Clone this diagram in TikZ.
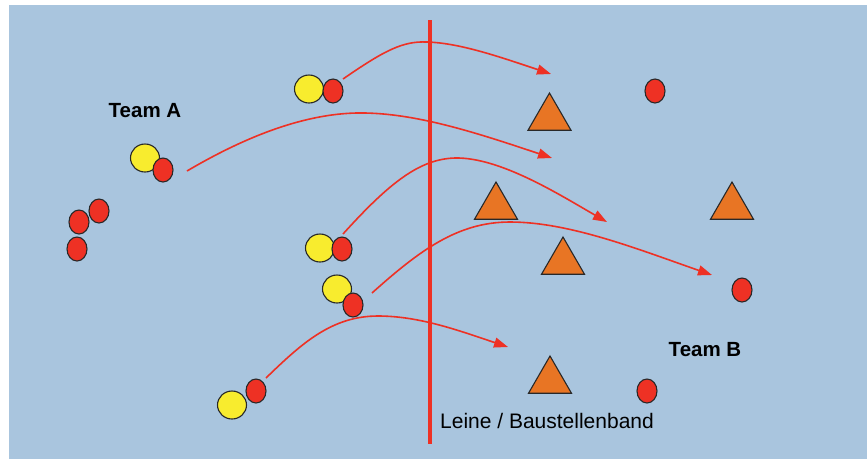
\documentclass[tikz,border=0pt]{standalone}
\usepackage{fontspec}
\setmainfont{Liberation Sans}
\usetikzlibrary{shapes.geometric,arrows.meta}
\definecolor{field}{RGB}{169,197,222}
\definecolor{runred}{RGB}{238,49,36}
\definecolor{ballyellow}{RGB}{248,236,46}
\definecolor{coneorange}{RGB}{232,117,36}
\definecolor{rim}{RGB}{40,40,40}
\begin{document}
\begin{tikzpicture}[x=1pt,y=-1pt,
  yellowplayer/.style={ellipse,draw=rim,line width=1.1pt,fill=ballyellow,
    minimum width=29pt,minimum height=28pt,inner sep=0pt},
  redplayer/.style={ellipse,draw=rim,line width=1.1pt,fill=runred,
    minimum width=20pt,minimum height=24pt,inner sep=0pt},
  cone/.style={regular polygon,regular polygon sides=3,draw=rim,line width=1.1pt,
    fill=coneorange,minimum size=49.6pt,inner sep=0pt},
  run/.style={draw=runred,line width=1.6pt,
    -{Triangle[length=14pt,width=10pt]}},
  teamlabel/.style={font=\fontsize{20.5}{24}\selectfont\bfseries,inner sep=0pt},
  ropelabel/.style={font=\fontsize{21}{25}\selectfont,inner sep=0pt}]

% playing field
\path[use as bounding box] (0,0) rectangle (867,459);
\fill[field] (9,5) rectangle (867,459);

% rope across the field
\coordinate (ropetop) at (430,20);
\coordinate (ropebottom) at (430,444);
\draw[runred,line width=4pt] (ropetop) -- (ropebottom);

% cones
\node[cone] (c1) at (549.5,117.8) {};
\node[cone] (c2) at (496,206.8) {};
\node[cone] (c3) at (563,261.8) {};
\node[cone] (c4) at (550,380.8) {};
\node[cone] (c5) at (732,206.8) {};

% team A: runners with balls
\node[yellowplayer] (y1) at (309,89) {};
\node[redplayer]    (p1) at (333,91) {};
\node[yellowplayer] (y2) at (145,158) {};
\node[redplayer]    (p2) at (163,170) {};
\node[yellowplayer] (y3) at (320,248) {};
\node[redplayer]    (p3) at (342,249) {};
\node[yellowplayer] (y4) at (337,289) {};
\node[redplayer]    (p4) at (353,305) {};
\node[yellowplayer] (y5) at (232,405) {};
\node[redplayer]    (p5) at (256,391) {};

% team A: waiting players
\node[redplayer] (wa1) at (99,211) {};
\node[redplayer] (wa2) at (79,222) {};
\node[redplayer] (wa3) at (77,249) {};

% team B
\node[redplayer] (b1) at (655,91) {};
\node[redplayer] (b2) at (742,290) {};
\node[redplayer] (b3) at (647,391) {};

% labels
\node[teamlabel] (teamA) at (145,111) {Team A};
\node[teamlabel] (teamB) at (705,350) {Team B};
\node[ropelabel] (rope) at (547,421) {Leine / Baustellenband};

% running paths
\coordinate (s1) at (343,79);  \coordinate (e1) at (551,74);
\coordinate (s2) at (187,171); \coordinate (e2) at (552,158);
\coordinate (s3) at (343,234); \coordinate (e3) at (607,222);
\coordinate (s4) at (372,293); \coordinate (e4) at (712,275);
\coordinate (s5) at (266,378); \coordinate (e5) at (508,347);

\draw[run] (s1) .. controls (385,50) and (403,41) .. (427,42)
                .. controls (460,43) and (500,57) .. (e1);
\draw[run] (s2) .. controls (260,128) and (318,112) .. (365,113)
                .. controls (420,114) and (480,134) .. (e2);
\draw[run] (s3) .. controls (390,182) and (420,159) .. (455,158)
                .. controls (500,157) and (560,195) .. (e3);
\draw[run] (s4) .. controls (420,250) and (458,222) .. (510,222)
                .. controls (570,222) and (640,250) .. (e4);
\draw[run] (s5) .. controls (302,343) and (332,316) .. (378,316)
                .. controls (420,316) and (460,331) .. (e5);
\end{tikzpicture}
\end{document}
